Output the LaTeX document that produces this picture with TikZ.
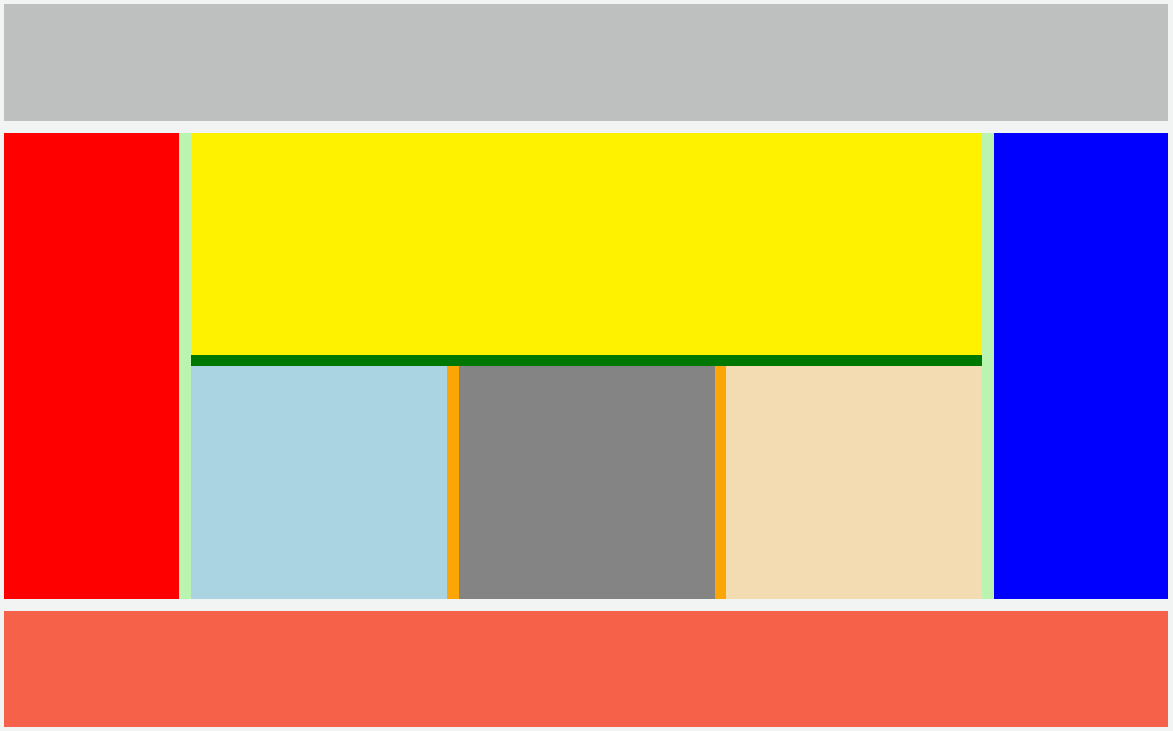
\documentclass[tikz,border=0pt]{standalone}
\usepackage{xcolor}
\usepackage{tikz}
\usetikzlibrary{positioning,calc}

\definecolor{pagebg}{HTML}{F2F3F3}
\definecolor{headgray}{HTML}{BEBFBF}
\definecolor{palegreenish}{HTML}{B9F5B1}
\definecolor{darkgreen}{HTML}{007800}
\definecolor{lightblueish}{HTML}{ABD4E3}
\definecolor{orangeish}{HTML}{FCA506}
\definecolor{grayish}{HTML}{848484}
\definecolor{wheatish}{HTML}{F3DCB2}
\definecolor{tomatoish}{HTML}{F6614A}

\tikzset{
    panel/.style={fill=#1, draw=none}
}

\begin{document}
\begin{tikzpicture}[x=0.5pt, y=-0.5pt]
        \fill[pagebg] (0,0) rectangle (1173,731);
        \useasboundingbox (0,0) rectangle (1173,731);
        \fill[panel=headgray] (4,4) rectangle (1168,121);
        \fill[panel=red] (4,133) rectangle (179,599);
        \fill[panel=palegreenish] (179,133) rectangle (994,599);
        \fill[panel=yellow] (191,133) rectangle (982,355);
        \fill[panel=darkgreen] (191,355) rectangle (982,366);
        \fill[panel=lightblueish] (191,366) rectangle (447,599);
        \fill[panel=orangeish] (447,366) rectangle (459,599);
        \fill[panel=grayish] (459,366) rectangle (715,599);
        \fill[panel=orangeish] (715,366) rectangle (726,599);
        \fill[panel=wheatish] (726,366) rectangle (982,599);
        \fill[panel=blue] (994,133) rectangle (1168,599);
        \fill[panel=tomatoish] (4,611) rectangle (1168,727);
    \end{tikzpicture}
\end{document}
